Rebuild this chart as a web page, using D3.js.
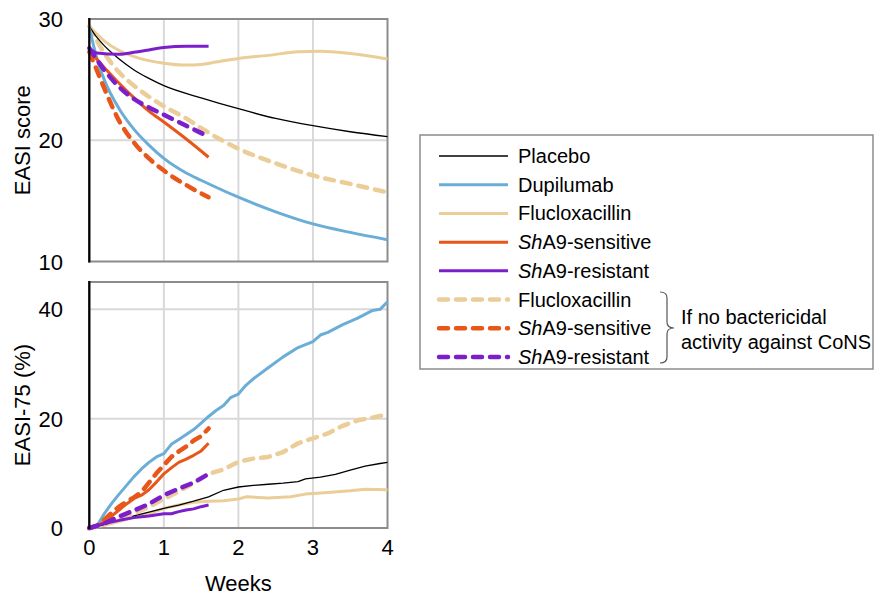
<!DOCTYPE html>
<html>
<head>
<meta charset="utf-8">
<script src="https://cdn.jsdelivr.net/npm/d3@7"></script>
<style>
  body { margin: 0; background: #fff; }
  svg { display: block; font-family: "Liberation Sans", Arial, sans-serif; }
</style>
</head>
<body>
<div id="chart"></div>
<script>
"use strict";

// series names / styles for the legend
var seriesNames = ["Placebo", "Dupilumab", "Flucloxacillin", "ShA9-sensitive", "ShA9-resistant",
                   "Flucloxacillin", "ShA9-sensitive", "ShA9-resistant"];
var seriesKeys = ["placebo", "dupilumab", "fluclox", "shSens", "shRes", "flucloxNB", "shSensNB", "shResNB"];

var xTicks = [0, 1, 2, 3, 4];
var easiTicks = [10, 20, 30];
var easi75Ticks = [0, 20, 40];

// EASI score over weeks [week, score]
var easiPlacebo = [[0,29.4],[0.1,28.5],[0.2,27.8],[0.4,26.7],[0.6,25.8],[0.8,25.1],[1,24.5],[1.5,23.5],[2,22.6],[2.5,21.8],[3,21.2],[3.5,20.7],[4,20.3]];
var easiDupilumab = [[0,29.3],[0.1,26.8],[0.2,25.0],[0.4,22.6],[0.6,20.9],[0.8,19.6],[1,18.5],[1.3,17.3],[1.5,16.7],[2,15.3],[2.5,14.1],[3,13.1],[3.5,12.4],[4,11.8]];
var easiFluclox = [[0,29.4],[0.2,28.2],[0.4,27.4],[0.6,26.9],[1,26.35],[1.3,26.2],[1.5,26.25],[1.7,26.45],[2,26.75],[2.4,27.0],[2.8,27.3],[3.1,27.35],[3.5,27.15],[4,26.7]];
var easiShSens = [[0,27.4],[0.2,26.0],[0.4,24.7],[0.6,23.5],[0.8,22.4],[1,21.5],[1.3,20.1],[1.6,18.6]];
var easiShRes = [[0,27.6],[0.1,27.2],[0.4,27.1],[0.6,27.25],[0.8,27.45],[1,27.65],[1.3,27.75],[1.6,27.75]];
var easiFlucloxNB = [[0,29.4],[0.2,27.2],[0.4,25.6],[0.6,24.5],[1,22.8],[1.3,21.8],[1.5,21.0],[2,19.3],[2.5,18.1],[3,17.1],[3.5,16.4],[4,15.7]];
var easiShSensNB = [[0,27.3],[0.1,25.8],[0.2,24.3],[0.4,21.6],[0.6,19.8],[0.8,18.5],[1,17.5],[1.3,16.3],[1.6,15.3]];
var easiShResNB = [[0,27.6],[0.2,25.8],[0.4,24.4],[0.6,23.4],[0.8,22.7],[1,22.1],[1.3,21.2],[1.6,20.3]];

// EASI-75 responders (%) over weeks [week, percent]
var e75Placebo = [[0,0],[0.2,0.6],[0.4,1.4],[0.6,2.2],[0.8,2.9],[1.0,3.6],[1.2,4.2],[1.4,4.9],[1.6,5.7],[1.8,6.9],[2.0,7.5],[2.2,7.8],[2.4,8.0],[2.6,8.2],[2.8,8.5],[2.9,9.0],[3.1,9.3],[3.3,9.8],[3.5,10.6],[3.7,11.3],[3.9,11.8],[4.0,12.0]];
var e75Dupilumab = [[0,0],[0.1,0.3],[0.2,2.6],[0.3,4.5],[0.4,6.2],[0.5,7.8],[0.6,9.4],[0.7,10.8],[0.8,12.0],[0.9,13.0],[1.0,13.6],[1.1,15.3],[1.2,16.2],[1.3,17.1],[1.4,18.0],[1.5,19.2],[1.6,20.4],[1.7,21.5],[1.8,22.4],[1.9,23.9],[2.0,24.5],[2.1,26.1],[2.2,27.3],[2.4,29.3],[2.6,31.3],[2.8,33.0],[3.0,34.1],[3.1,35.3],[3.2,35.8],[3.4,37.2],[3.6,38.4],[3.8,39.8],[3.9,40.0],[4.0,41.4]];
var e75Fluclox = [[0,0],[0.2,0.5],[0.4,1.2],[0.6,2.0],[0.8,2.6],[1.0,3.6],[1.2,4.2],[1.4,4.7],[1.6,4.9],[1.8,5.0],[2.0,5.3],[2.1,5.7],[2.4,5.5],[2.7,5.7],[2.9,6.2],[3.2,6.5],[3.5,6.8],[3.7,7.1],[4.0,7.0]];
var e75ShSens = [[0,0],[0.1,0.3],[0.2,1.2],[0.3,2.2],[0.4,3.3],[0.5,4.4],[0.6,5.4],[0.7,6.0],[0.8,7.0],[0.9,8.4],[1.0,9.9],[1.1,11.0],[1.2,12.0],[1.3,12.6],[1.4,13.3],[1.5,14.1],[1.6,15.5]];
var e75ShRes = [[0,0],[0.2,0.8],[0.4,1.4],[0.6,1.9],[0.8,2.2],[1.0,2.6],[1.1,2.6],[1.2,3.0],[1.3,3.3],[1.4,3.5],[1.5,3.9],[1.6,4.2]];
var e75FlucloxNB = [[0,0],[0.2,0.6],[0.4,1.5],[0.6,2.6],[0.8,3.9],[1.0,5.3],[1.2,6.7],[1.4,8.2],[1.6,9.9],[1.8,10.7],[2.0,12.1],[2.2,12.7],[2.4,13.0],[2.6,13.9],[2.8,15.5],[3.0,16.4],[3.2,17.3],[3.4,18.7],[3.6,19.7],[3.8,20.2],[4.0,20.8]];
var e75ShSensNB = [[0,0],[0.1,0.4],[0.2,1.5],[0.3,2.8],[0.4,3.9],[0.5,4.8],[0.6,5.6],[0.7,6.6],[0.8,8.3],[0.9,10.0],[1.0,11.5],[1.1,13.0],[1.2,14.0],[1.3,14.9],[1.4,16.0],[1.5,16.8],[1.6,18.2]];
var e75ShResNB = [[0,0],[0.2,0.8],[0.4,2.1],[0.6,3.2],[0.8,4.4],[1.0,6.0],[1.2,7.2],[1.4,8.3],[1.6,9.9]];

// line styles per series key
var styles = {
  placebo:   { color: "#000000", width: 1.3, dash: null },
  dupilumab: { color: "#6aaed8", width: 3, dash: null },
  fluclox:   { color: "#ebcd98", width: 3, dash: null },
  shSens:    { color: "#e8561a", width: 3, dash: null },
  shRes:     { color: "#7b1fcc", width: 3, dash: null },
  flucloxNB: { color: "#ebcd98", width: 4.5, dash: "9,8" },
  shSensNB:  { color: "#e8561a", width: 4.5, dash: "9,8" },
  shResNB:   { color: "#7b1fcc", width: 4.5, dash: "9,8" }
};

// draw order (back to front)
var easiSeries = [
  ["fluclox", easiFluclox], ["flucloxNB", easiFlucloxNB], ["placebo", easiPlacebo],
  ["dupilumab", easiDupilumab], ["shSens", easiShSens], ["shSensNB", easiShSensNB],
  ["shResNB", easiShResNB], ["shRes", easiShRes]
];
var e75Series = [
  ["fluclox", e75Fluclox], ["placebo", e75Placebo], ["flucloxNB", e75FlucloxNB],
  ["dupilumab", e75Dupilumab], ["shSens", e75ShSens], ["shSensNB", e75ShSensNB],
  ["shRes", e75ShRes], ["shResNB", e75ShResNB]
];

var width = 875, height = 598;
var svg = d3.select("#chart").append("svg").attr("width", width).attr("height", height);

var x = d3.scaleLinear().domain([0, 4]).range([89.3, 387.5]);
var yTop = d3.scaleLinear().domain([10, 30]).range([261.5, 19]);
var yBot = d3.scaleLinear().domain([0, 45]).range([528, 282]);

// draws one panel (grid, frame, lines, y ticks)
function panel(y, yTicks, series, curve, label, showX) {
  var g = svg.append("g");
  var y0 = y.range()[0], y1 = y.range()[1];

  // gridlines
  g.selectAll("line.vgrid").data(xTicks.slice(1, -1)).enter().append("line")
    .attr("x1", function (d) { return x(d); }).attr("x2", function (d) { return x(d); })
    .attr("y1", y1).attr("y2", y0)
    .style("stroke", "#d9d9d9").style("stroke-width", 2);
  g.selectAll("line.hgrid").data(yTicks.filter(function (d) { return y(d) < y0 - 1 && y(d) > y1 + 1; })).enter().append("line")
    .attr("x1", x(0)).attr("x2", x(4))
    .attr("y1", function (d) { return y(d); }).attr("y2", function (d) { return y(d); })
    .style("stroke", "#d9d9d9").style("stroke-width", 2);

  // frame
  g.append("rect").attr("x", x(0)).attr("y", y1).attr("width", x(4) - x(0)).attr("height", y0 - y1)
    .style("fill", "none").style("stroke", "#8c8c8c").style("stroke-width", 2);

  // data lines
  var line = d3.line().x(function (d) { return x(d[0]); }).y(function (d) { return y(d[1]); }).curve(curve);
  g.selectAll("path.series").data(series).enter().append("path")
    .attr("d", function (d) { return line(d[1]); })
    .style("fill", "none")
    .style("stroke", function (d) { return styles[d[0]].color; })
    .style("stroke-width", function (d) { return styles[d[0]].width; })
    .style("stroke-dasharray", function (d) { return styles[d[0]].dash; })
    .style("stroke-linecap", function (d) { return styles[d[0]].dash ? "round" : "butt"; })
    .style("stroke-linejoin", "round");

  // left axis line
  g.append("line").attr("x1", x(0)).attr("x2", x(0)).attr("y1", y1 - 1).attr("y2", y0 + 1)
    .style("stroke", "#000").style("stroke-width", 2.2);

  // y tick labels
  g.selectAll("text.ytick").data(yTicks).enter().append("text")
    .attr("x", 63).attr("y", function (d) { return y(d) + 8; })
    .attr("text-anchor", "end").style("font-size", "22px")
    .text(function (d) { return d; });

  // y axis title
  g.append("text").attr("transform", "translate(30," + ((y0 + y1) / 2) + ") rotate(-90)")
    .attr("text-anchor", "middle").style("font-size", "22px").text(label);

  if (showX) {
    g.selectAll("text.xtick").data(xTicks).enter().append("text")
      .attr("x", function (d) { return x(d); }).attr("y", y0 + 27)
      .attr("text-anchor", "middle").style("font-size", "22px")
      .text(function (d) { return d; });
    g.append("text").attr("x", x(2)).attr("y", y0 + 63)
      .attr("text-anchor", "middle").style("font-size", "22px").text("Weeks");
  }
}

panel(yTop, easiTicks, easiSeries, d3.curveMonotoneX, "EASI score", false);
panel(yBot, easi75Ticks, e75Series, d3.curveLinear, "EASI-75 (%)", true);

// legend
var legend = svg.append("g");
legend.append("rect").attr("x", 420).attr("y", 135).attr("width", 453).attr("height", 234)
  .style("fill", "#fff").style("stroke", "#8c8c8c").style("stroke-width", 1.5);

var rowY = d3.scaleLinear().domain([0, 7]).range([156, 357]);
var rows = legend.selectAll("g.row").data(seriesKeys).enter().append("g")
  .attr("transform", function (d, i) { return "translate(0," + rowY(i) + ")"; });
rows.append("line").attr("x1", 439).attr("x2", 508).attr("y1", 0).attr("y2", 0)
  .style("stroke", function (d) { return styles[d].color; })
  .style("stroke-width", function (d) { return styles[d].dash ? 4.5 : styles[d].width === 1.3 ? 1.3 : 3; })
  .style("stroke-dasharray", function (d) { return styles[d].dash; })
  .style("stroke-linecap", function (d) { return styles[d].dash ? "round" : "butt"; });
rows.append("text").attr("x", 518).attr("y", 7).style("font-size", "20px")
  .each(function (d, i) {
    var name = seriesNames[i];
    var t = d3.select(this);
    if (name.indexOf("Sh") === 0) {
      t.append("tspan").style("font-style", "italic").text("Sh");
      t.append("tspan").text(name.slice(2));
    } else {
      t.text(name);
    }
  });

// bracket for the "no bactericidal activity" group
legend.append("path")
  .attr("d", "M660,292 Q667,292 667,298 V322 Q667,328 674,328 Q667,328 667,334 V357 Q667,363 660,363")
  .style("fill", "none").style("stroke", "#555").style("stroke-width", 1.2);
legend.append("text").attr("x", 681).attr("y", 324).style("font-size", "20px").text("If no bactericidal");
legend.append("text").attr("x", 681).attr("y", 349).style("font-size", "20px").text("activity against CoNS");
</script>
</body>
</html>
